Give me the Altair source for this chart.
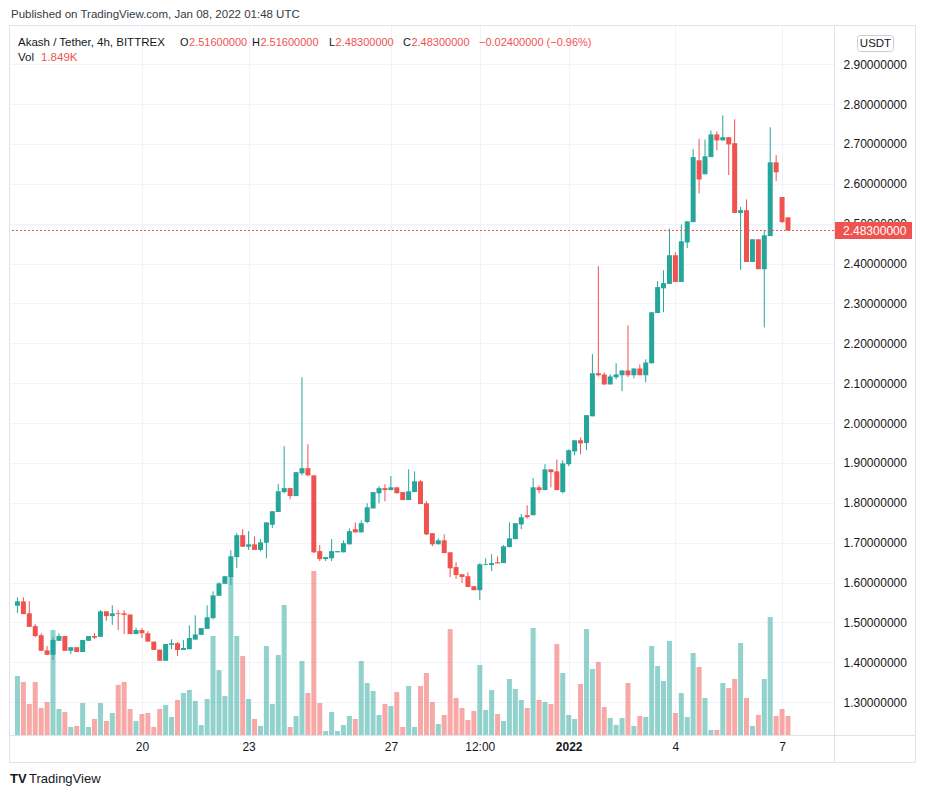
import altair as alt
import pandas as pd

# ---------------- data ----------------
opens = [1.542, 1.553, 1.523, 1.491, 1.468, 1.430, 1.419, 1.454, 1.466, 1.429,
         1.438, 1.426, 1.454, 1.466, 1.464, 1.528, 1.516, 1.523, 1.523, 1.520,
         1.471, 1.481, 1.473, 1.452, 1.432, 1.404, 1.444, 1.448, 1.431, 1.433,
         1.457, 1.469, 1.484, 1.511, 1.567, 1.597, 1.614, 1.664, 1.719, 1.690,
         1.696, 1.682, 1.700, 1.745, 1.777, 1.827, 1.837, 1.817, 1.874, 1.887,
         1.869, 1.679, 1.659, 1.661, 1.676, 1.676, 1.696, 1.734, 1.726, 1.752,
         1.786, 1.824, 1.837, 1.832, 1.839, 1.827, 1.807, 1.827, 1.854, 1.799,
         1.724, 1.696, 1.706, 1.676, 1.639, 1.621, 1.616, 1.591, 1.581, 1.644,
         1.644, 1.651, 1.649, 1.689, 1.709, 1.746, 1.769, 1.769, 1.839, 1.832,
         1.884, 1.879, 1.827, 1.897, 1.929, 1.957, 1.950, 2.017, 2.125, 2.122,
         2.097, 2.115, 2.120, 2.132, 2.120, 2.137, 2.120, 2.150, 2.276, 2.338,
         2.349, 2.421, 2.354, 2.453, 2.504, 2.659, 2.624, 2.667, 2.724, 2.709,
         2.717, 2.702, 2.527, 2.534, 2.404, 2.461, 2.386, 2.469, 2.654, 2.567,
         2.516]
highs = [1.563, 1.563, 1.553, 1.496, 1.473, 1.441, 1.464, 1.473, 1.466, 1.438,
         1.438, 1.456, 1.466, 1.473, 1.531, 1.528, 1.543, 1.531, 1.531, 1.520,
         1.487, 1.486, 1.478, 1.452, 1.432, 1.446, 1.458, 1.451, 1.456, 1.493,
         1.518, 1.486, 1.543, 1.578, 1.601, 1.616, 1.681, 1.724, 1.734, 1.729,
         1.716, 1.709, 1.751, 1.779, 1.847, 1.942, 1.837, 1.877, 2.115, 1.947,
         1.869, 1.694, 1.664, 1.709, 1.679, 1.706, 1.736, 1.751, 1.756, 1.799,
         1.827, 1.842, 1.847, 1.867, 1.839, 1.827, 1.884, 1.879, 1.857, 1.804,
         1.724, 1.711, 1.721, 1.676, 1.651, 1.621, 1.626, 1.591, 1.649, 1.661,
         1.671, 1.666, 1.694, 1.751, 1.749, 1.772, 1.794, 1.862, 1.844, 1.897,
         1.884, 1.909, 1.907, 1.934, 1.957, 1.964, 2.020, 2.173, 2.394, 2.127,
         2.122, 2.150, 2.132, 2.245, 2.137, 2.147, 2.160, 2.278, 2.356, 2.383,
         2.488, 2.428, 2.498, 2.506, 2.687, 2.713, 2.711, 2.734, 2.732, 2.772,
         2.717, 2.762, 2.542, 2.561, 2.461, 2.461, 2.484, 2.742, 2.672, 2.567,
         2.516]
lows = [1.524, 1.521, 1.489, 1.463, 1.429, 1.419, 1.406, 1.454, 1.429, 1.421,
        1.426, 1.426, 1.454, 1.459, 1.464, 1.504, 1.494, 1.481, 1.471, 1.471,
        1.471, 1.461, 1.452, 1.431, 1.404, 1.404, 1.433, 1.416, 1.431, 1.433,
        1.457, 1.469, 1.484, 1.508, 1.567, 1.597, 1.594, 1.637, 1.690, 1.682,
        1.682, 1.679, 1.661, 1.737, 1.777, 1.824, 1.809, 1.817, 1.869, 1.867,
        1.674, 1.654, 1.654, 1.654, 1.676, 1.676, 1.696, 1.726, 1.726, 1.749,
        1.786, 1.799, 1.804, 1.832, 1.824, 1.807, 1.807, 1.827, 1.797, 1.719,
        1.691, 1.696, 1.674, 1.614, 1.609, 1.599, 1.589, 1.581, 1.556, 1.644,
        1.629, 1.649, 1.649, 1.689, 1.709, 1.734, 1.761, 1.769, 1.824, 1.832,
        1.839, 1.832, 1.824, 1.892, 1.919, 1.922, 1.932, 2.017, 2.117, 2.095,
        2.097, 2.110, 2.080, 2.115, 2.112, 2.120, 2.102, 2.150, 2.276, 2.278,
        2.349, 2.354, 2.354, 2.439, 2.504, 2.576, 2.624, 2.667, 2.684, 2.709,
        2.622, 2.527, 2.384, 2.404, 2.404, 2.386, 2.240, 2.469, 2.607, 2.502,
        2.483]
closes = [1.553, 1.521, 1.489, 1.466, 1.429, 1.419, 1.456, 1.466, 1.429, 1.438,
          1.426, 1.456, 1.466, 1.462, 1.528, 1.516, 1.523, 1.521, 1.519, 1.471,
          1.481, 1.473, 1.452, 1.431, 1.404, 1.446, 1.448, 1.431, 1.436, 1.461,
          1.470, 1.486, 1.513, 1.568, 1.598, 1.616, 1.666, 1.719, 1.690, 1.696,
          1.682, 1.701, 1.751, 1.779, 1.829, 1.837, 1.817, 1.877, 1.887, 1.869,
          1.676, 1.659, 1.664, 1.679, 1.679, 1.699, 1.729, 1.726, 1.749, 1.789,
          1.827, 1.837, 1.832, 1.839, 1.824, 1.807, 1.829, 1.854, 1.797, 1.721,
          1.696, 1.706, 1.674, 1.636, 1.619, 1.614, 1.589, 1.581, 1.646, 1.646,
          1.649, 1.648, 1.691, 1.711, 1.749, 1.764, 1.764, 1.839, 1.832, 1.884,
          1.877, 1.832, 1.899, 1.932, 1.957, 1.949, 2.020, 2.125, 2.120, 2.097,
          2.117, 2.122, 2.132, 2.120, 2.137, 2.120, 2.152, 2.278, 2.341, 2.351,
          2.421, 2.354, 2.456, 2.506, 2.667, 2.611, 2.669, 2.724, 2.709, 2.717,
          2.699, 2.527, 2.534, 2.404, 2.461, 2.386, 2.471, 2.654, 2.629, 2.504,
          2.483]
volumes_k = [5.74, 5.16, 3.02, 5.16, 2.63, 3.21, 10.22, 2.53, 2.24, 0.78,
             0.88, 3.11, 0.78, 1.56, 3.11, 1.36, 2.14, 4.87, 5.16, 2.53,
             1.36, 2.04, 2.14, 0.78, 2.53, 2.92, 1.75, 3.41, 4.09, 4.38,
             3.31, 0.97, 3.50, 9.63, 6.32, 3.79, 15.47, 9.63, 7.69, 3.50,
             1.56, 0.88, 8.66, 3.02, 7.78, 12.65, 0.78, 1.85, 7.20, 4.09,
             15.96, 3.11, 0.39, 2.24, 0.39, 0.97, 1.85, 1.56, 7.20, 5.06,
             4.28, 1.95, 3.02, 2.82, 4.18, 0.78, 4.77, 0.78, 4.77, 6.03,
             3.21, 1.07, 1.95, 10.31, 3.60, 2.63, 1.46, 2.34, 6.81, 2.43,
             4.38, 2.04, 1.36, 5.45, 4.48, 3.41, 2.63, 10.41, 3.41, 3.21,
             3.02, 8.85, 6.03, 1.95, 1.56, 4.96, 10.31, 6.42, 7.10, 2.72,
             1.65, 0.97, 1.65, 5.06, 0.88, 1.85, 1.75, 8.66, 6.71, 5.25,
             9.15, 2.14, 4.09, 1.75, 7.98, 6.62, 3.60, 0.49, 0.49, 5.06,
             4.57, 5.45, 8.95, 3.60, 0.88, 1.95, 5.45, 11.48, 1.85, 2.53,
             1.849]

tick_index = [21, 39, 63, 78, 93, 111, 129]
tick_labels = ["20", "23", "27", "12:00", "2022", "4", "7"]
bold_tick = 93
price_ticks = [1.3, 1.4, 1.5, 1.6, 1.7, 1.8, 1.9, 2.0, 2.1, 2.2,
               2.3, 2.4, 2.5, 2.6, 2.7, 2.8, 2.9]
last_price = 2.483

UP = "#26a69a"
DOWN = "#ef5350"
TXT = "#131722"
GRID = "#f0f3fa"
FRAME = "#e0e3eb"
FONT = "Liberation Sans"

n = len(closes)
df = pd.DataFrame({
    "i": list(range(n)),
    "open": opens, "high": highs, "low": lows, "close": closes,
    "volume": volumes_k,
})
df["dir"] = ["up" if c >= o else "down" for o, c in zip(opens, closes)]

W, H = 825, 710
xscale = alt.Scale(domain=[-0.583, 136.917], nice=False, zero=False)
yscale = alt.Scale(domain=[1.21785, 2.99835], nice=False, zero=False)
vscale = alt.Scale(domain=[0, 69.08], nice=False, zero=True)
color = alt.Color("dir:N", scale=alt.Scale(domain=["up", "down"], range=[UP, DOWN]), legend=None)

label_expr = " : ".join(f"datum.value == {v} ? '{t}'" for v, t in zip(tick_index, tick_labels)) + " : ''"

xaxis = alt.Axis(values=tick_index, labelExpr=label_expr, orient="bottom", ticks=False,
                 domain=False, grid=True, gridColor=GRID, labelFontSize=12, labelColor=TXT,
                 labelFont=FONT, labelPadding=6, title=None, labelFlush=False, labelOverlap=False,
                 labelFontWeight={"condition": {"test": f"datum.value == {bold_tick}", "value": "bold"},
                                  "value": "normal"})
yaxis = alt.Axis(orient="right", values=price_ticks, format=".8f", ticks=False, domain=False,
                 grid=True, gridColor=GRID, labelPadding=9, labelFontSize=12, labelColor=TXT,
                 labelFont=FONT, title=None, labelOverlap=False, labelFlush=False)

X = alt.X("i:Q", scale=xscale, axis=xaxis)

vol = alt.Chart(df).mark_bar(width=5, opacity=0.5).encode(
    x=X,
    y=alt.Y("volume:Q", scale=vscale, axis=None),
    color=color,
)

wick = alt.Chart(df).mark_rule(strokeWidth=1).encode(
    x=X,
    y=alt.Y("low:Q", scale=yscale, axis=yaxis),
    y2="high:Q",
    color=color,
)
body = alt.Chart(df).mark_bar(width=5).encode(
    x=X,
    y=alt.Y("open:Q", scale=yscale, axis=yaxis),
    y2="close:Q",
    color=color,
)
lp = pd.DataFrame({"p": [last_price]})
pline = alt.Chart(lp).mark_rule(strokeDash=[2, 2], color=DOWN, stroke=DOWN, strokeWidth=1, opacity=1).encode(
    y=alt.Y("p:Q", scale=yscale, axis=yaxis))
ptag = alt.Chart(lp).mark_tick(orient="horizontal", thickness=17, size=78, opacity=1, color=DOWN).encode(
    x=alt.value(864), y=alt.Y("p:Q", scale=yscale, axis=yaxis))
ptxt = alt.Chart(lp).mark_text(align="left", baseline="middle", color="white", fontSize=12, font=FONT).encode(
    x=alt.value(834), y=alt.Y("p:Q", scale=yscale, axis=yaxis), text=alt.Text("p:Q", format=".8f"))

price = alt.layer(wick, body, pline, ptag, ptxt)

one = pd.DataFrame({"a": [0]})


def txt(s, x, y, col=TXT, size=11, weight="normal", align="left"):
    return alt.Chart(one).mark_text(align=align, baseline="middle", fontSize=size, font=FONT,
                                    fontWeight=weight, color=col).encode(
        x=alt.value(x), y=alt.value(y), text=alt.value(s))


def hline(x1, x2, y):
    return alt.Chart(one).mark_rule(color=FRAME, strokeWidth=1).encode(
        x=alt.value(x1), x2=alt.value(x2), y=alt.value(y))


def vline(x, y1, y2):
    return alt.Chart(one).mark_rule(color=FRAME, strokeWidth=1).encode(
        x=alt.value(x), y=alt.value(y1), y2=alt.value(y2))


frame = [
    hline(0, 906, 0.5), hline(0, 906, 737.5), vline(0.5, 0, 738), vline(906.5, 0, 738),
    vline(825.5, 0, 738), hline(0, 906, 710.5),
]

badge = alt.Chart(one).mark_rect(fill="white", stroke="#c9ccd3", strokeWidth=1, cornerRadius=3).encode(
    x=alt.value(848.5), x2=alt.value(884.5), y=alt.value(10.5), y2=alt.value(26.5))

fs = 11
hx = [("O", 171, 0.778), ("H", 243, 0.722), ("L", 320, 0.556), ("C", 394, 0.722)]
legend_vals = ["2.51600000", "2.51600000", "2.48300000", "2.48300000"]
header = [
    txt("Published on TradingView.com, Jan 08, 2022 01:48 UTC", 2, -10, col="#363a45", size=11.5),
    txt("Akash / Tether, 4h, BITTREX", 9, 17.5, size=11.5),
    txt("−0.02400000 (−0.96%)", 470, 17.5, col=DOWN),
    txt("Vol", 9, 33, size=11.5),
    txt("1.849K", 32, 33, col=DOWN, size=11.5),
    txt("USDT", 866.5, 18.5, align="center", size=11.5),
    txt("TV", 1, 754, size=13, weight="bold"),
    txt("TradingView", 20, 754, size=13),
]
for (letter, x0, w), v in zip(hx, legend_vals):
    header.append(txt(letter, x0, 17.5))
    header.append(txt(v, x0 + w * fs + 0.5, 17.5, col=DOWN))

chart = alt.layer(vol, price, *frame, badge, *header).resolve_scale(y="independent").properties(
    width=W, height=H,
    autosize=alt.AutoSizeParams(type="none"),
    padding={"left": 1, "top": 17, "right": 84, "bottom": 51},
    background="white",
).configure_view(stroke=None)

chart.save("out.html", embed_options={"renderer": "svg", "actions": False})
